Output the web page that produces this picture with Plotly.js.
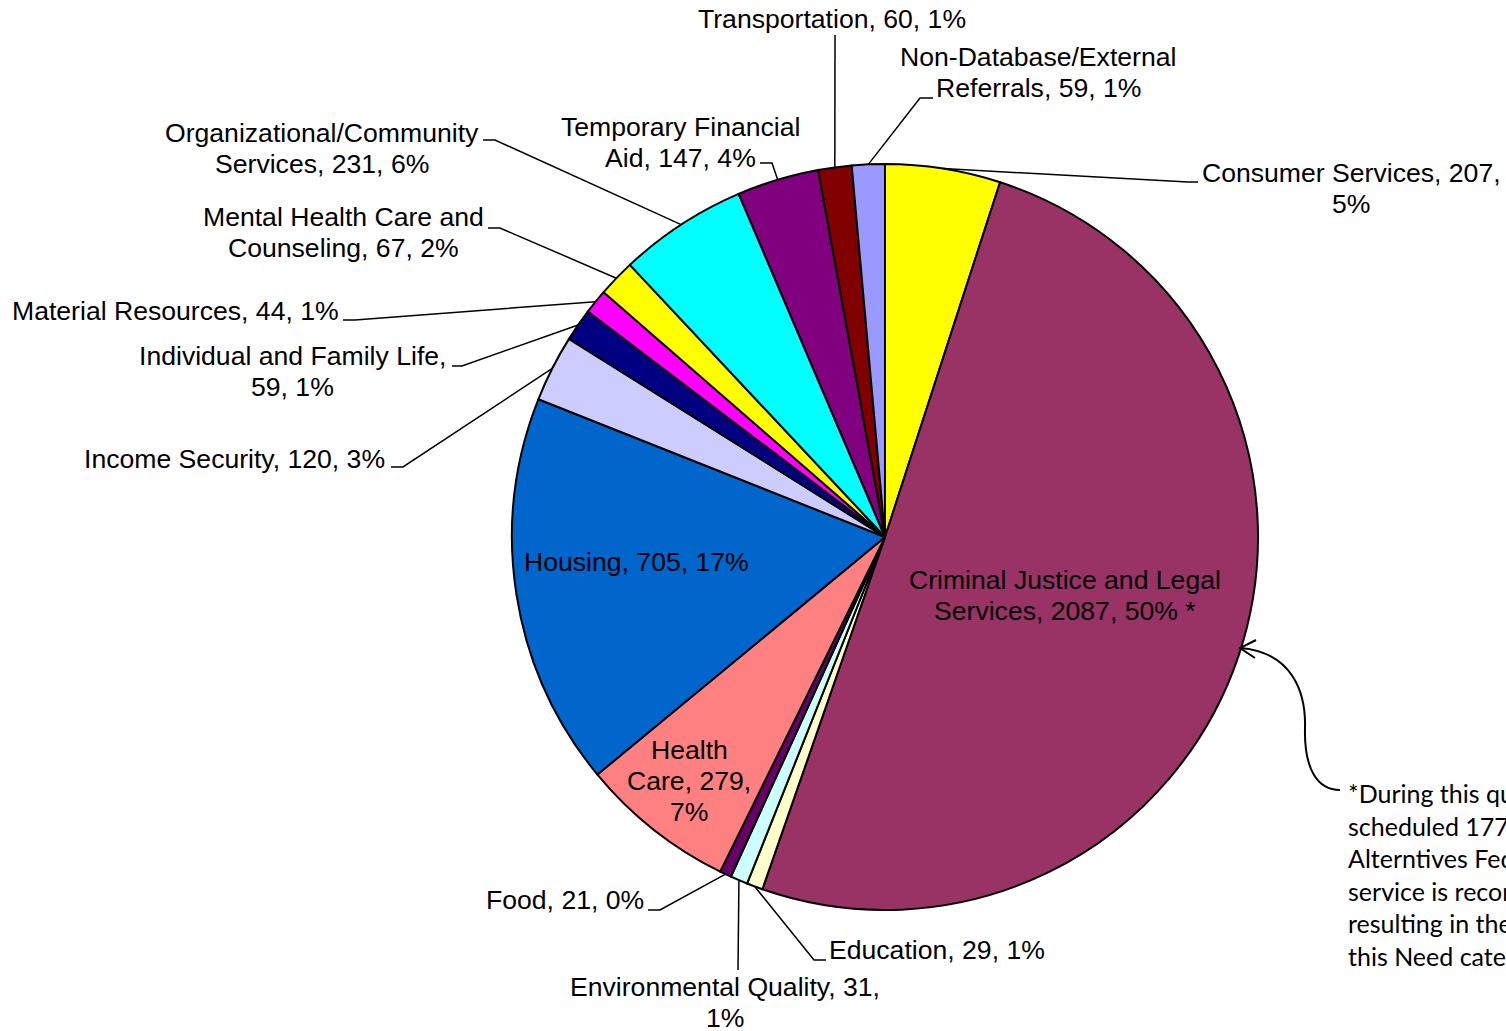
<!DOCTYPE html>
<html>
<head>
<meta charset="utf-8">
<script src="https://cdn.plot.ly/plotly-3.0.1.min.js"></script>
<style>
  html, body { margin: 0; padding: 0; background: #ffffff; overflow: hidden; }
  #chart { width: 1506px; height: 1031px; }
</style>
</head>
<body>
<div id="chart"></div>
<script>
// ---------------- DATA ----------------
const categories = [
  "Consumer Services",
  "Criminal Justice and Legal Services",
  "Education",
  "Environmental Quality",
  "Food",
  "Health Care",
  "Housing",
  "Income Security",
  "Individual and Family Life",
  "Material Resources",
  "Mental Health Care and Counseling",
  "Organizational/Community Services",
  "Temporary Financial Aid",
  "Transportation",
  "Non-Database/External Referrals"
];
const values = [207, 2087, 29, 31, 21, 279, 705, 120, 59, 44, 67, 231, 147, 60, 59];
const percents = [5, 50, 1, 1, 0, 7, 17, 3, 1, 1, 2, 6, 4, 1, 1];
const labelSuffix = ["", " *", "", "", "", "", "", "", "", "", "", "", "", "", ""];
const colors = [
  "#FFFF00", "#993366", "#FFFFCC", "#CCFFFF", "#660066", "#FF8080", "#0066CC",
  "#CCCCFF", "#000080", "#FF00FF", "#FFFF00", "#00FFFF", "#800080", "#800000", "#9999FF"
];
const noteLines = [
  "*During this quarter",
  "scheduled 1776",
  "Alterntives Federal",
  "service is recorded",
  "resulting in the",
  "this Need category"
];

// ---------------- LAYOUT SETTINGS ----------------
const W = 1506, H = 1031;
const CX = 885, CY = 537, R = 373;           // pie geometry in px
const LINE_H = 31;                          // label line spacing
// per-slice label placement: x,y = centre of first text line (px), wrap = max chars per line,
// leader = elbow points from the slice edge towards the text (px)
const placement = [
  {x: 1351, y: 173, wrap: 23, leader: [[1188, 182], [1198, 182]]},
  {x: 1065, y: 580, wrap: 26, leader: null},
  {x: 937,  y: 950, wrap: 30, leader: [[814, 960], [826, 960]]},
  {x: 725,  y: 987, wrap: 26, leader: [[738, 970]]},
  {x: 565,  y: 900, wrap: 30, leader: [[660, 910], [648, 910]]},
  {x: 689,  y: 750, wrap: 10, leader: null},
  {x: 636,  y: 562, wrap: 30, leader: null},
  {x: 234,  y: 459, wrap: 30, leader: [[403, 467], [391, 467]]},
  {x: 292,  y: 356, wrap: 27, leader: [[462, 366], [452, 366]]},
  {x: 175,  y: 311, wrap: 30, leader: [[355, 320], [343, 320]]},
  {x: 343,  y: 217, wrap: 22, leader: [[500, 228], [488, 228]]},
  {x: 322,  y: 133, wrap: 24, leader: [[495, 140], [483, 140]]},
  {x: 680,  y: 127, wrap: 20, leader: [[772, 163], [760, 163]]},
  {x: 832,  y: 19,  wrap: 30, leader: [[835, 35]]},
  {x: 1038, y: 57,  wrap: 21, leader: [[920, 98], [933, 98]]}
];

const fx = x => x / W;
const fy = y => 1 - y / H;

function wrapText(str, width) {
  const words = str.split(" ");
  const lines = [];
  let cur = "";
  words.forEach(w => {
    if (cur === "") cur = w;
    else if ((cur + " " + w).length <= width) cur += " " + w;
    else { lines.push(cur); cur = w; }
  });
  if (cur) lines.push(cur);
  return lines;
}

const total = values.reduce((a, b) => a + b, 0);
const labelFont = {family: "Liberation Sans, Arial, sans-serif", size: 26.6, color: "#000000"};

const annotations = [];
const shapes = [];
let cum = 0;
values.forEach((v, i) => {
  const midDeg = (cum + v / 2) / total * 360;
  cum += v;
  const th = midDeg * Math.PI / 180;
  const px = CX + R * Math.sin(th);
  const py = CY - R * Math.cos(th);
  const p = placement[i];
  const text = categories[i] + ", " + values[i] + ", " + percents[i] + "%" + labelSuffix[i];
  const lines = wrapText(text, p.wrap);
  lines.forEach((ln, k) => {
    annotations.push({
      xref: "paper", yref: "paper",
      x: fx(p.x), y: fy(p.y + k * LINE_H),
      xanchor: "center", yanchor: "middle",
      text: ln, showarrow: false, font: labelFont
    });
  });
  if (p.leader) {
    let path = "M" + fx(px) + "," + fy(py);
    p.leader.forEach(pt => { path += " L" + fx(pt[0]) + "," + fy(pt[1]); });
    shapes.push({
      type: "path", xref: "paper", yref: "paper", path: path,
      line: {color: "#000000", width: 1.5}
    });
  }
});

// note text
noteLines.forEach((ln, k) => {
  annotations.push({
    xref: "paper", yref: "paper",
    x: fx(1346), y: fy(793 + k * 32.6),
    xanchor: "left", yanchor: "middle",
    text: ln, showarrow: false,
    font: {family: "Lato, 'Open Sans', sans-serif", size: 25, color: "#000000"}
  });
});
// curved connector to the note
function pp(pts) { return pts.map(p => fx(p[0]) + "," + fy(p[1])); }
const c = pp([[1240, 648], [1292, 652], [1306, 692], [1305, 728], [1304, 770], [1318, 790], [1340, 790]]);
shapes.push({
  type: "path", xref: "paper", yref: "paper",
  path: "M" + c[0] + " C" + c[1] + " " + c[2] + " " + c[3] + " C" + c[4] + " " + c[5] + " " + c[6],
  line: {color: "#000000", width: 2}
});
const a = pp([[1256, 640], [1240, 648], [1255, 658]]);
shapes.push({
  type: "path", xref: "paper", yref: "paper",
  path: "M" + a[0] + " L" + a[1] + " L" + a[2],
  line: {color: "#000000", width: 2}
});

const trace = {
  type: "pie",
  labels: categories,
  values: values,
  sort: false,
  direction: "clockwise",
  rotation: 0,
  textinfo: "none",
  hoverinfo: "label+value+percent",
  marker: {colors: colors, line: {color: "#000000", width: 2}},
  domain: {x: [fx(CX - R), fx(CX + R)], y: [fy(CY + R), fy(CY - R)]},
  showlegend: false
};

const layout = {
  width: W, height: H,
  margin: {l: 0, r: 0, t: 0, b: 0, pad: 0},
  paper_bgcolor: "#ffffff",
  plot_bgcolor: "#ffffff",
  showlegend: false,
  annotations: annotations,
  shapes: shapes
};

Plotly.newPlot("chart", [trace], layout, {displayModeBar: false, responsive: false});
</script>
</body>
</html>
